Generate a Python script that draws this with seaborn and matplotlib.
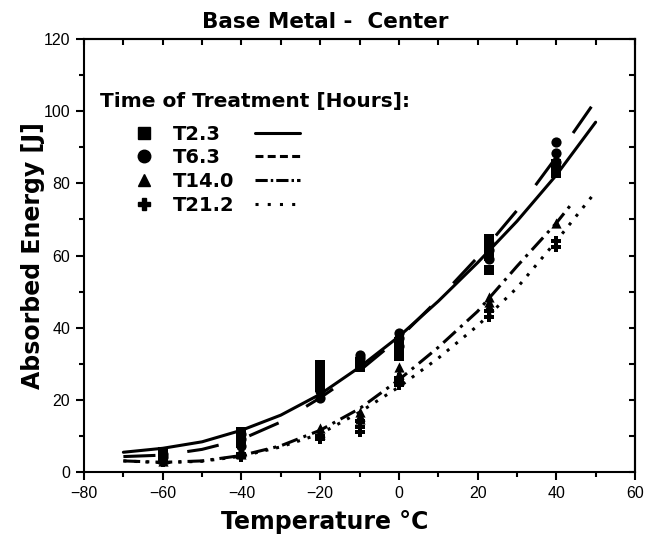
import numpy as np
import pandas as pd
import matplotlib
matplotlib.use("Agg")
import matplotlib.pyplot as plt
import seaborn as sns
from matplotlib.lines import Line2D
from matplotlib.ticker import MultipleLocator

# ---------- data ----------
SERIES = ["T2.3", "T6.3", "T14.0", "T21.2"]
MARKERS = ["s", "o", "^", "P"]

# measured Charpy points
t23_temp   = [-60, -60, -40, -40, -40, -20, -20, -20, -20, -10, -10, 0, 0, 0, 23, 23, 23, 23, 40, 40, 40]
t23_energy = [5.5, 4.5, 11.0, 9.5, 8.0, 29.5, 27.5, 25.5, 23.5, 29.0, 30.5, 36.0, 34.0, 32.0,
              64.5, 62.5, 60.0, 56.0, 85.5, 84.0, 83.0]
t63_temp   = [-60, -60, -40, -40, -40, -20, -20, -10, -10, -10, 0, 0, 0, 23, 23, 23, 40, 40, 40]
t63_energy = [5.0, 4.0, 10.5, 9.0, 7.0, 20.5, 22.5, 32.5, 31.5, 30.5, 38.5, 37.0, 35.0,
              63.5, 61.5, 59.0, 91.5, 88.5, 86.0]
t140_temp   = [-60, -60, -40, -40, -40, -20, -20, -20, -10, -10, -10, 0, 0, 0, 23, 23, 23, 40]
t140_energy = [3.5, 3.0, 6.0, 5.5, 5.0, 12.0, 11.0, 10.5, 16.5, 15.5, 14.5, 29.0, 27.0, 25.5,
               48.5, 47.0, 46.0, 69.0]
t212_temp   = [-60, -60, -40, -40, -40, -20, -20, -20, -10, -10, -10, 0, 0, 0, 23, 23, 40, 40]
t212_energy = [2.8, 3.2, 5.0, 4.5, 4.2, 10.0, 9.5, 9.0, 14.0, 12.5, 11.0, 26.0, 25.0, 24.0,
               44.5, 43.0, 64.0, 62.5]

# fitted transition curves
curve_temp      = [-70, -60, -50, -40, -30, -20, -10, 0, 10, 20, 30, 40, 50]
curve_t23       = [5.4, 6.5, 8.3, 11.5, 15.7, 21.5, 29.0, 37.5, 47.3, 58.0, 69.5, 82.3, 97.0]
curve_t63       = [4.2, 4.6, 6.2, 9.0, 13.8, 20.5, 28.0, 37.0, 47.8, 59.5, 72.5, 87.3, 103.0]
curve_temp_t140 = [-70, -60, -50, -40, -30, -20, -10, 0, 10, 20, 30, 40, 43.5]
curve_t140      = [3.0, 2.6, 3.0, 4.5, 7.2, 11.5, 17.5, 25.5, 34.5, 44.5, 57.0, 69.0, 73.8]
curve_t212      = [3.0, 2.5, 2.9, 4.3, 6.9, 10.5, 16.5, 23.5, 31.5, 40.5, 51.0, 64.0, 77.7]

points = pd.concat([
    pd.DataFrame({"temp": t23_temp, "energy": t23_energy, "series": "T2.3"}),
    pd.DataFrame({"temp": t63_temp, "energy": t63_energy, "series": "T6.3"}),
    pd.DataFrame({"temp": t140_temp, "energy": t140_energy, "series": "T14.0"}),
    pd.DataFrame({"temp": t212_temp, "energy": t212_energy, "series": "T21.2"}),
], ignore_index=True)

curves = {
    "T2.3": (curve_temp, curve_t23),
    "T6.3": (curve_temp, curve_t63),
    "T14.0": (curve_temp_t140, curve_t140),
    "T21.2": (curve_temp, curve_t212),
}
curve_styles = {
    "T2.3": "-",
    "T6.3": (0, (10.5, 10.5)),
    "T14.0": (0, (5.5, 2.0, 1.0, 2.0)),
    "T21.2": (0, (1.0, 2.6)),
}
legend_styles = ["-", (0, (2.6, 1.4)), (0, (4.0, 1.0, 0.8, 1.0)), (0, (1.0, 3.0))]

# ---------- style ----------
sns.set_style("ticks")
plt.rcParams["font.family"] = ["Liberation Sans", "DejaVu Sans"]
plt.rcParams.update({
    "axes.linewidth": 1.5,
    "axes.edgecolor": "black",
    "axes.labelcolor": "black",
    "text.color": "black",
    "xtick.color": "black",
    "ytick.color": "black",
})
BOLD = {"family": "DejaVu Sans", "weight": "bold"}

fig = plt.figure(figsize=(6.57, 5.35), dpi=100)
ax = fig.add_axes([0.1279, 0.1183, 0.8386, 0.8082])

for name, mk in zip(SERIES, MARKERS):
    x, y = curves[name]
    sns.lineplot(x=x, y=y, color="black", linewidth=2.2, linestyle=curve_styles[name],
                 ax=ax, legend=False)
    sub = points[points["series"] == name]
    sns.scatterplot(data=sub, x="temp", y="energy", marker=mk, s=54, color="black",
                    edgecolor="black", linewidth=0, ax=ax, legend=False, zorder=3)

ax.set_xlim(-80, 60)
ax.set_ylim(0, 120)
ax.xaxis.set_major_locator(MultipleLocator(20))
ax.xaxis.set_minor_locator(MultipleLocator(10))
ax.yaxis.set_major_locator(MultipleLocator(20))
ax.yaxis.set_minor_locator(MultipleLocator(10))
ax.tick_params(which="major", direction="out", length=6, width=1.5, labelsize=11.5, pad=4)
ax.tick_params(which="minor", direction="out", length=3.5, width=1.5)
for sp in ax.spines.values():
    sp.set_visible(True)
    sp.set_linewidth(1.5)

# inward ticks on the top / right frame
top = ax.secondary_xaxis("top")
top.xaxis.set_major_locator(MultipleLocator(10))
top.tick_params(direction="in", length=4, width=1.5, labeltop=False)
right = ax.secondary_yaxis("right")
right.yaxis.set_major_locator(MultipleLocator(10))
right.tick_params(direction="in", length=4, width=1.5, labelright=False)

ax.set_title("Base Metal -  Center", fontsize=15.5, pad=8, x=0.437, **BOLD)
ax.set_xlabel("Temperature \u00b0C", fontsize=17, **BOLD)
ax.set_ylabel("Absorbed Energy [J]", fontsize=17, **BOLD)
ax.xaxis.set_label_coords(0.437, -0.088)
ax.yaxis.set_label_coords(-0.071, 0.5)

# legend: marker, label, line sample
ax.text(0.029, 0.856, "Time of Treatment [Hours]:", transform=ax.transAxes,
        fontsize=14.5, va="center", ha="left", **BOLD)
mk_handles = [Line2D([], [], marker=m, color="black", linestyle="none", markersize=9)
              for m in MARKERS]
ln_handles = [Line2D([], [], color="black", linewidth=2.2, linestyle=ls) for ls in legend_styles]
ax.legend(handles=mk_handles + ln_handles, labels=SERIES + [""] * 4, ncol=2,
          loc="upper left", bbox_to_anchor=(0.069, 0.803), frameon=False,
          borderpad=0, borderaxespad=0, handlelength=2.3, handletextpad=0.3,
          columnspacing=1.08, labelspacing=0.24,
          prop={"family": "DejaVu Sans", "weight": "bold", "size": 14})

fig.savefig("out.png", dpi=100)
